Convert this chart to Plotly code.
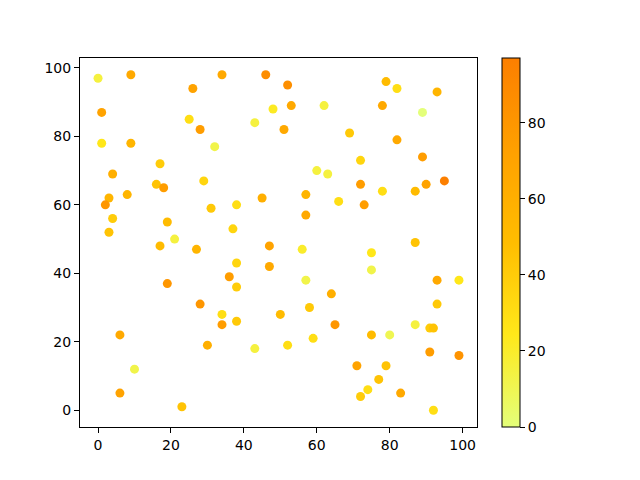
import plotly.graph_objects as go

# points (x, y, colour value)
x = [0, 9, 34, 46, 26, 52, 79, 82, 93, 1,
     25, 28, 48, 43, 53, 62, 78, 89, 51, 69,
     82, 1, 9, 32, 17, 4, 16, 18, 29, 8,
     3, 2, 31, 38, 45, 4, 19, 3, 37, 21,
     72, 89, 60, 63, 72, 90, 95, 57, 78, 87,
     66, 73, 57, 87, 56,
     17, 27, 47, 38, 47, 36, 19, 38, 28, 34,
     38, 34, 50, 6, 30, 43, 10, 6, 23,
     75, 75, 57, 93, 99, 64, 93, 58, 65, 75,
     80, 87, 91, 92, 52, 59, 91, 99, 71, 79,
     77, 74, 72, 83, 92]
y = [97, 98, 98, 98, 94, 95, 96, 94, 93, 87,
     85, 82, 88, 84, 89, 89, 89, 87, 82, 81,
     79, 78, 78, 77, 72, 69, 66, 65, 67, 63,
     62, 60, 59, 60, 62, 56, 55, 52, 53, 50,
     73, 74, 70, 69, 66, 66, 67, 63, 64, 64,
     61, 60, 57, 49, 47,
     48, 47, 48, 43, 42, 39, 37, 36, 31, 28,
     26, 25, 28, 22, 19, 18, 12, 5, 1,
     46, 41, 38, 38, 38, 34, 31, 30, 25, 22,
     22, 25, 24, 24, 19, 21, 17, 16, 13, 13,
     9, 6, 4, 5, 0]
c = [15, 65, 65, 87, 70, 85, 50, 30, 55, 70,
     30, 75, 22, 15, 65, 15, 65, 0, 65, 42,
     65, 25, 55, 12, 40, 60, 45, 75, 35, 55,
     55, 80, 42, 30, 60, 40, 50, 45, 35, 15,
     35, 75, 15, 15, 75, 70, 97, 55, 30, 50,
     30, 75, 65, 45, 20,
     50, 55, 70, 35, 65, 75, 80, 40, 80, 30,
     42, 75, 50, 65, 60, 15, 12, 70, 45,
     25, 12, 12, 65, 25, 60, 42, 42, 80, 50,
     10, 15, 40, 45, 30, 30, 75, 82, 70, 45,
     45, 30, 40, 65, 30]

wistia = [[0.0, "#e4ff7a"], [0.25, "#ffe81a"], [0.5, "#ffbd00"],
          [0.75, "#ffa000"], [1.0, "#fc7f00"]]

fig = go.Figure()
fig.add_trace(go.Scatter(
    x=x, y=y, mode="markers",
    marker=dict(
        size=9, color=c, colorscale=wistia, cmin=min(c), cmax=max(c),
        line=dict(width=0),
        showscale=True,
        colorbar=dict(
            x=1.063, xanchor="left", y=0.5, yanchor="middle",
            len=1.0, lenmode="fraction", thickness=18,
            outlinewidth=1, outlinecolor="black",
            tickvals=[0, 20, 40, 60, 80], ticks="outside", ticklen=5,
            tickcolor="black", tickfont=dict(size=14, color="black"),
            xpad=0, ypad=0,
        ),
    ),
    hoverinfo="x+y",
))

axis_style = dict(
    showgrid=False, zeroline=False, showline=True, linecolor="black",
    linewidth=1, mirror=True, ticks="outside", ticklen=5, tickcolor="black",
    tickfont=dict(size=14, color="black"), tickvals=[0, 20, 40, 60, 80, 100],
)

# the page puts the figure 8px in from the top-left corner, so the margins
# are shifted to keep the axes where the reference has them
fig.update_layout(
    width=640, height=480,
    margin=dict(l=72, r=171, t=50, b=61),
    plot_bgcolor="white", paper_bgcolor="white",
    font=dict(family="DejaVu Sans"),
    showlegend=False,
    xaxis=dict(range=[-4.95, 103.95], **axis_style),
    yaxis=dict(range=[-4.9, 102.9], **axis_style),
)

fig.write_html("out.html")
